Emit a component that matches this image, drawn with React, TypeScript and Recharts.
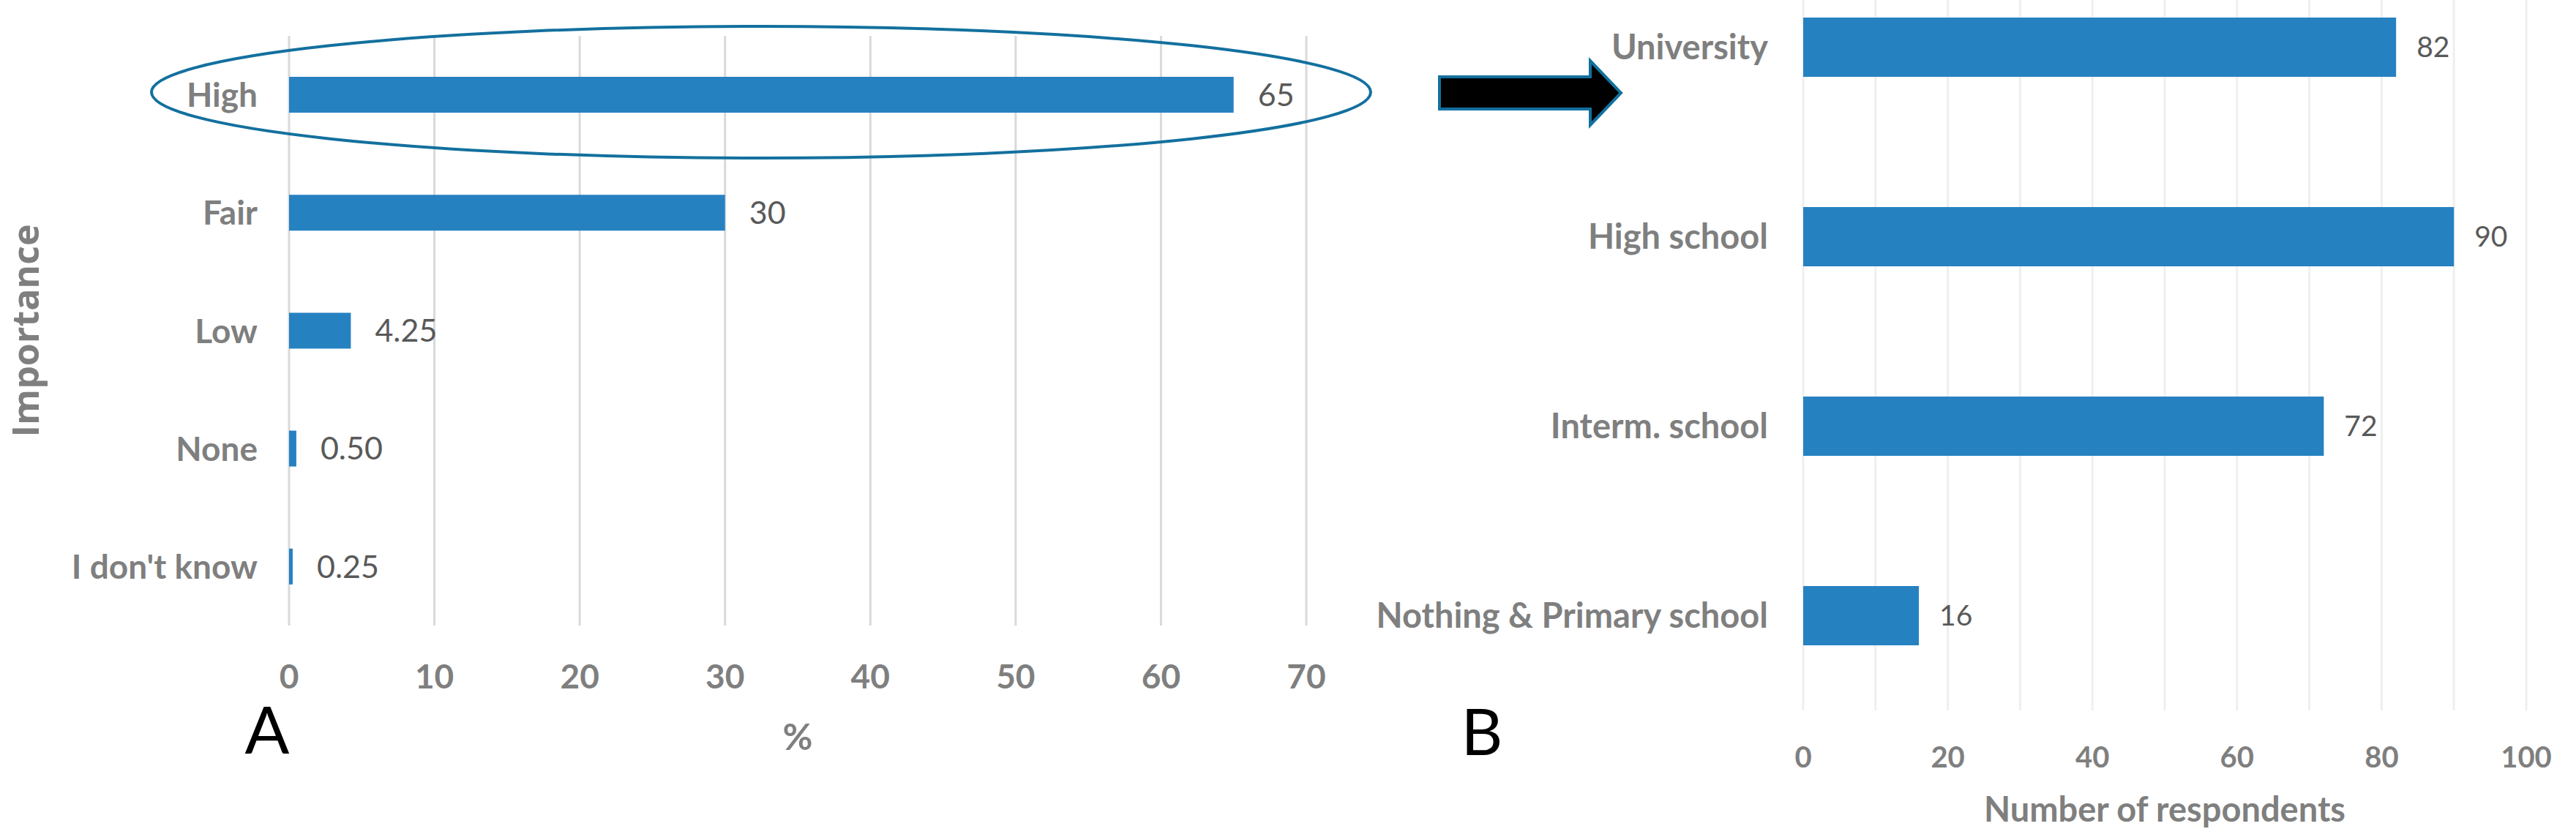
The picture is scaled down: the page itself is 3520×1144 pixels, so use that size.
import React from 'react';
import {
  BarChart,
  Bar,
  XAxis,
  YAxis,
  CartesianGrid,
  LabelList,
} from 'recharts';

// Panel A: importance
const importanceLevels = ['High', 'Fair', 'Low', 'None', "I don't know"];
const importanceValues = [65, 30, 4.25, 0.5, 0.25];
const percentTicks = [0, 10, 20, 30, 40, 50, 60, 70];

// Panel B: education
const educationLevels = ['University', 'High school', 'Interm. school', 'Nothing & Primary school'];
const educationValues = [82, 90, 72, 16];
const respondentTicks = [0, 10, 20, 30, 40, 50, 60, 70, 80, 90, 100];
const respondentLabelTicks = [0, 20, 40, 60, 80, 100];

const FONT = 'Lato, "Open Sans", sans-serif';
const GRAY = '#7f7f7f';
const LABEL_GRAY = '#595959';
const BAR = '#2681c1';
const OUTLINE = '#13709e';

const importanceData = importanceLevels.map((level, i) => ({ level, value: importanceValues[i] }));
const educationData = educationLevels.map((level, i) => ({ level, value: educationValues[i] }));

const fmt = (v: number) => (Number.isInteger(v) ? String(v) : v.toFixed(2));

const CatTick = (gap: number, size: number) => (props: any) => {
  const { x, y, payload } = props;
  return (
    <text x={x - gap} y={y} dy={size * 0.36} textAnchor="end" fill={GRAY} fontSize={size} fontWeight={700} fontFamily={FONT}>
      {payload.value}
    </text>
  );
};

const NumTick = (offset: number, size: number, shown?: number[]) => (props: any) => {
  const { x, y, payload } = props;
  if (shown && !shown.includes(payload.value)) return <g />;
  return (
    <text x={x} y={y + offset} textAnchor="middle" fill={GRAY} fontSize={size} fontWeight={700} fontFamily={FONT}>
      {payload.value}
    </text>
  );
};

// major gridlines: pick the axis ticks at multiples of 20
const majorLines = ({ xAxis }: any) => {
  const ticks = (xAxis && xAxis.ticks) || [];
  return ticks
    .filter((t: any) => respondentLabelTicks.includes(Number(t.value)))
    .map((t: any) => t.coordinate);
};

const App: React.FC = () => {
  return (
    <div style={{ position: 'absolute', left: 0, top: 0, width: 3520, height: 1144, overflow: 'hidden', background: '#fff' }}>
      {/* A */}
      <div style={{ position: 'absolute', left: 0, top: 0 }}>
        <BarChart
          layout="vertical"
          width={1900}
          height={1144}
          data={importanceData}
          margin={{ top: 49, right: 115, bottom: 0, left: 0 }}
        >
          <CartesianGrid horizontal={false} stroke="#d9d9d9" strokeWidth={3} />
          <XAxis
            type="number"
            domain={[0, 70]}
            ticks={percentTicks}
            height={289}
            axisLine={false}
            tickLine={false}
            tickSize={0}
            tickMargin={0}
            tick={NumTick(86, 46)}
            label={{ value: '%', position: 'insideBottom', offset: 119, fill: GRAY, fontSize: 50, fontWeight: 700, fontFamily: FONT }}
          />
          <YAxis
            type="category"
            dataKey="level"
            width={395}
            axisLine={false}
            tickLine={false}
            tickSize={0}
            tickMargin={0}
            tick={CatTick(43, 46)}
            label={{
              value: 'Importance',
              angle: -90,
              position: 'insideLeft',
              offset: 35,
              fill: GRAY,
              fontSize: 50,
              fontWeight: 700,
              fontFamily: '"Open Sans", sans-serif',
              style: { textAnchor: 'middle' },
            }}
          />
          <Bar dataKey="value" fill={BAR} barSize={49} isAnimationActive={false}>
            <LabelList dataKey="value" position="right" offset={33} formatter={(v: any) => fmt(Number(v))} fill={LABEL_GRAY} fontSize={43} fontFamily={FONT} />
          </Bar>
        </BarChart>
      </div>

      {/* B */}
      <div style={{ position: 'absolute', left: 1750, top: -65 }}>
        <BarChart
          layout="vertical"
          width={1770}
          height={1209}
          data={educationData}
          margin={{ top: 0, right: 68, bottom: 0, left: 0 }}
        >
          <CartesianGrid horizontal={false} stroke="#efefef" strokeWidth={3} />
          <CartesianGrid horizontal={false} stroke="#d9d9d9" strokeWidth={3} verticalCoordinatesGenerator={majorLines} />
          <XAxis
            type="number"
            domain={[0, 100]}
            ticks={respondentTicks}
            height={173}
            axisLine={false}
            tickLine={false}
            tickSize={0}
            tickMargin={0}
            tick={NumTick(78, 40, respondentLabelTicks)}
            label={{ value: 'Number of respondents', position: 'insideBottom', offset: 21, fill: GRAY, fontSize: 47, fontWeight: 700, fontFamily: FONT }}
          />
          <YAxis
            type="category"
            dataKey="level"
            width={714}
            axisLine={false}
            tickLine={false}
            tickSize={0}
            tickMargin={0}
            tick={CatTick(48, 47)}
          />
          <Bar dataKey="value" fill={BAR} barSize={81} isAnimationActive={false}>
            <LabelList dataKey="value" position="right" offset={28} fill={LABEL_GRAY} fontSize={39} fontFamily={FONT} />
          </Bar>
        </BarChart>
      </div>

      {/* annotations */}
      <svg width={3520} height={1144} style={{ position: 'absolute', left: 0, top: 0, pointerEvents: 'none' }}>
        <ellipse cx={1040} cy={126} rx={833} ry={90} fill="none" stroke={OUTLINE} strokeWidth={4} />
        <polygon
          points="1967,105 2173,105 2173,83 2215,127 2173,171 2173,149 1967,149"
          fill="#000"
          stroke={OUTLINE}
          strokeWidth={4}
        />
        <text x={365} y={1030} textAnchor="middle" fontSize={90} fontFamily={FONT} fill="#000">A</text>
        <text x={2025} y={1032} textAnchor="middle" fontSize={88} fontFamily={FONT} fill="#000">B</text>
      </svg>
    </div>
  );
};

export default App;
